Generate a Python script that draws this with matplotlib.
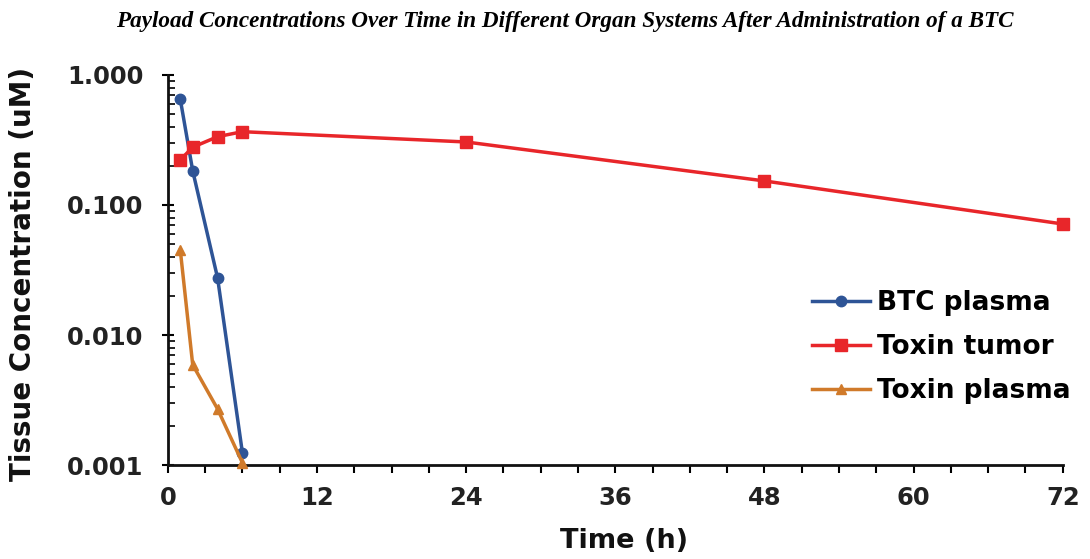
import numpy as np
import matplotlib.pyplot as plt
from matplotlib.ticker import FixedLocator, MultipleLocator, LogLocator, NullFormatter

# Data
btc_time = [1, 2, 4, 6]
btc_plasma = [0.65, 0.183, 0.0275, 0.00124]

tumor_time = [1, 2, 4, 6, 24, 48, 72]
toxin_tumor = [0.222, 0.278, 0.335, 0.366, 0.305, 0.153, 0.0714]

tox_time = [1, 2, 4, 6]
toxin_plasma = [0.045, 0.0059, 0.0027, 0.00104]

y_ticks = [0.001, 0.01, 0.1, 1.0]
y_labels = ["0.001", "0.010", "0.100", "1.000"]
x_ticks = [0, 12, 24, 36, 48, 60, 72]

fig = plt.figure(figsize=(10.9, 5.59), dpi=100)
ax = fig.add_axes([0.154, 0.168, 0.821, 0.698])

ax.plot(btc_time, btc_plasma, color="#2e5496", marker="o", markersize=7.5,
        linewidth=2.5, label="BTC plasma", clip_on=False, zorder=3)
ax.plot(tumor_time, toxin_tumor, color="#e8262a", marker="s", markersize=9,
        linewidth=2.5, label="Toxin tumor", clip_on=False, zorder=3)
ax.plot(tox_time, toxin_plasma, color="#d07a2a", marker="^", markersize=7,
        linewidth=2.5, label="Toxin plasma", clip_on=False, zorder=3)

ax.set_yscale("log")
ax.set_ylim(0.001, 1.0)
ax.set_xlim(0, 72)

ax.yaxis.set_major_locator(FixedLocator(y_ticks))
ax.set_yticklabels(y_labels)
ax.yaxis.set_minor_locator(LogLocator(base=10, subs=np.arange(2, 10)))
ax.yaxis.set_minor_formatter(NullFormatter())
ax.set_xticks(x_ticks)
ax.xaxis.set_minor_locator(MultipleLocator(3))

ax.tick_params(axis="y", which="major", direction="inout", length=9, width=1.5,
               labelsize=17.5, pad=13)
ax.tick_params(axis="y", which="minor", direction="in", length=5, width=1.2)
ax.tick_params(axis="x", which="both", direction="out", length=6, width=1.5,
               labelsize=17.5, pad=9)
for lbl in ax.get_xticklabels() + ax.get_yticklabels():
    lbl.set_fontweight("bold")
    lbl.set_color("#222222")

for side in ["top", "right"]:
    ax.spines[side].set_visible(False)
for side in ["left", "bottom"]:
    ax.spines[side].set_linewidth(2)
    ax.spines[side].set_color("#111111")

ax.set_xlabel("Time (h)", fontsize=19.5, fontweight="bold", color="#111111")
ax.xaxis.set_label_coords(0.51, -0.16)
ax.set_ylabel("Tissue Concentration (uM)", fontsize=20, fontweight="bold", color="#111111")
ax.yaxis.set_label_coords(-0.146, 0.49)

leg = ax.legend(loc="lower right", bbox_to_anchor=(1.035, 0.095), frameon=False,
                prop={"size": 19, "weight": "bold"}, handlelength=2.2,
                handletextpad=0.25, labelspacing=0.68)

fig.suptitle("Payload Concentrations Over Time in Different Organ Systems After Administration of a BTC",
             x=0.518, y=0.98, fontsize=16.7, fontweight="bold", fontstyle="italic",
             family="Liberation Serif")

fig.savefig("out.png", dpi=100)
